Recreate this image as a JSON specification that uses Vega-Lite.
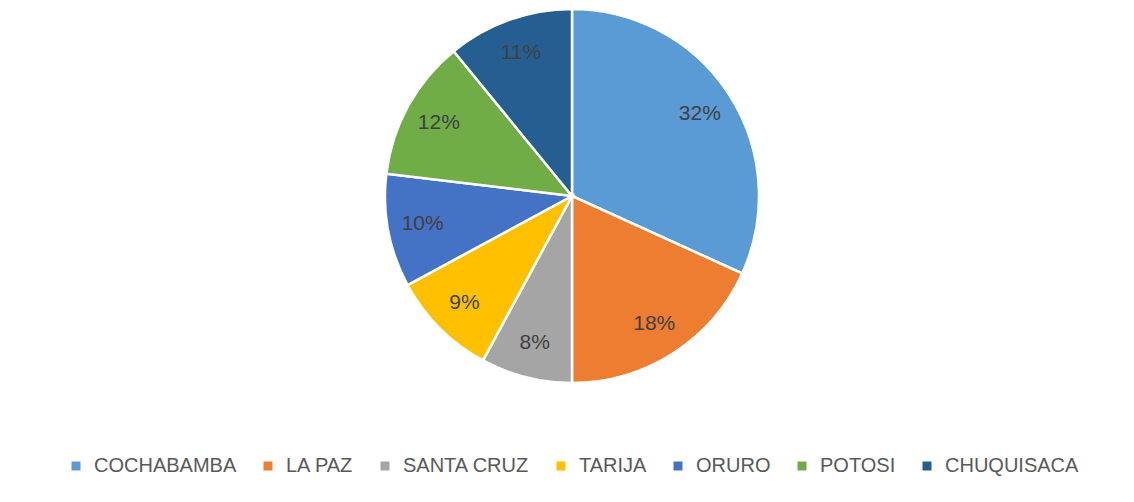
{
  "$schema": "https://vega.github.io/schema/vega-lite/v6.json",
  "width": 1124,
  "height": 392,
  "padding": {"left": 10, "top": 0, "right": 0, "bottom": 110},
  "autosize": {"type": "none"},
  "background": "#ffffff",
  "config": {
    "view": {"stroke": null},
    "legend": {"layout": {"bottom": {"anchor": "middle"}}}
  },
  "data": {
    "values": [
      {"region": "COCHABAMBA", "value": 31.8, "label": "32%", "order": 1},
      {"region": "LA PAZ", "value": 18.2, "label": "18%", "order": 2},
      {"region": "SANTA CRUZ", "value": 7.9, "label": "8%", "order": 3},
      {"region": "TARIJA", "value": 9.2, "label": "9%", "order": 4},
      {"region": "ORURO", "value": 9.8, "label": "10%", "order": 5},
      {"region": "POTOSI", "value": 12.2, "label": "12%", "order": 6},
      {"region": "CHUQUISACA", "value": 10.9, "label": "11%", "order": 7}
    ]
  },
  "encoding": {
    "theta": {"field": "value", "type": "quantitative", "stack": true},
    "order": {"field": "order", "type": "quantitative"}
  },
  "layer": [
    {
      "mark": {"type": "arc", "outerRadius": 187, "stroke": "#ffffff", "strokeWidth": 2.5},
      "encoding": {
        "color": {
          "field": "region",
          "type": "nominal",
          "sort": ["COCHABAMBA", "LA PAZ", "SANTA CRUZ", "TARIJA", "ORURO", "POTOSI", "CHUQUISACA"],
          "scale": {
            "domain": ["COCHABAMBA", "LA PAZ", "SANTA CRUZ", "TARIJA", "ORURO", "POTOSI", "CHUQUISACA"],
            "range": ["#5B9BD5", "#ED7D31", "#A5A5A5", "#FFC000", "#4472C4", "#70AD47", "#255E91"]
          },
          "legend": {
            "title": null,
            "orient": "bottom",
            "direction": "horizontal",
            "columns": 7,
            "offset": 64,
            "symbolType": "square",
            "symbolSize": 81,
            "symbolStrokeWidth": 0,
            "labelFont": "Liberation Sans",
            "labelFontSize": 20,
            "labelColor": "#595959",
            "columnPadding": 21,
            "labelOffset": 8
          }
        }
      }
    },
    {
      "mark": {"type": "text", "radius": 152, "font": "Liberation Sans", "fontSize": 21, "fill": "#404040"},
      "encoding": {
        "text": {"field": "label", "type": "nominal"}
      }
    }
  ]
}
